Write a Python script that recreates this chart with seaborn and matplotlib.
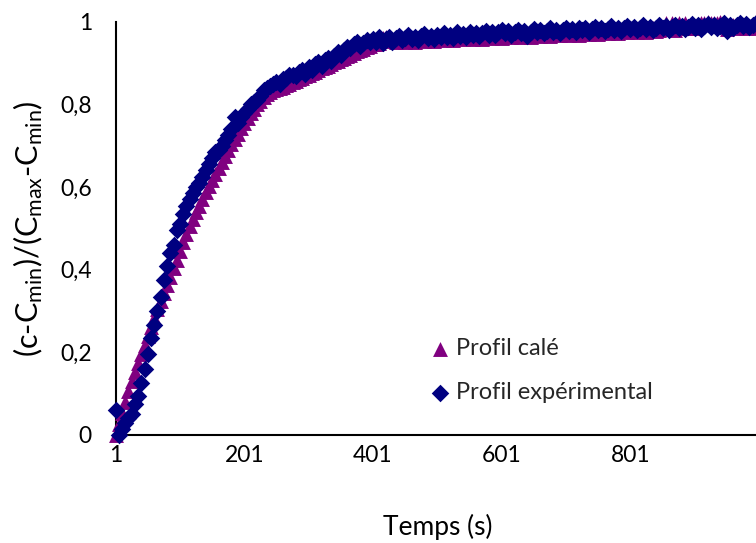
import matplotlib
matplotlib.use("Agg")
import matplotlib.pyplot as plt
import pandas as pd
import seaborn as sns

# Sampling times (s)
temps = list(range(1, 1000, 5))

# Fitted concentration profile, normalised
profil_cale = [
    0.000, 0.027, 0.054, 0.080, 0.106, 0.130, 0.153, 0.175, 0.197, 0.218,
    0.240, 0.262, 0.283, 0.304, 0.324, 0.344, 0.363, 0.383, 0.403, 0.424,
    0.445, 0.466, 0.486, 0.505, 0.522, 0.539, 0.555, 0.571, 0.587, 0.602,
    0.617, 0.632, 0.647, 0.661, 0.675, 0.689, 0.703, 0.716, 0.729, 0.742,
    0.755, 0.767, 0.779, 0.790, 0.800, 0.809, 0.817, 0.825, 0.831, 0.835,
    0.838, 0.840, 0.842, 0.846, 0.850, 0.853, 0.857, 0.861, 0.865, 0.868,
    0.872, 0.876, 0.879, 0.883, 0.887, 0.891, 0.894, 0.898, 0.902, 0.905,
    0.909, 0.913, 0.917, 0.920, 0.924, 0.928, 0.931, 0.935, 0.939, 0.942,
    0.945, 0.947, 0.949, 0.960, 0.962, 0.953, 0.957, 0.950, 0.954, 0.958,
    0.951, 0.955, 0.959, 0.952, 0.956, 0.960, 0.953, 0.957, 0.961, 0.954,
    0.958, 0.962, 0.955, 0.959, 0.963, 0.956, 0.960, 0.964, 0.957, 0.961,
    0.965, 0.958, 0.962, 0.966, 0.959, 0.963, 0.967, 0.960, 0.964, 0.968,
    0.961, 0.965, 0.969, 0.962, 0.966, 0.970, 0.963, 0.967, 0.971, 0.964,
    0.968, 0.972, 0.965, 0.969, 0.973, 0.966, 0.970, 0.974, 0.967, 0.971,
    0.975, 0.968, 0.972, 0.976, 0.969, 0.973, 0.977, 0.970, 0.974, 0.978,
    0.971, 0.975, 0.979, 0.972, 0.976, 0.980, 0.973, 0.977, 0.981, 0.974,
    0.978, 0.982, 0.975, 0.979, 0.983, 0.976, 0.980, 0.984, 0.977, 0.981,
    0.985, 0.997, 0.982, 0.996, 0.979, 0.998, 0.987, 0.997, 0.984, 0.996,
    0.984, 0.995, 0.998, 0.996, 0.999, 0.997, 0.998, 0.996, 0.999, 0.997,
    0.983, 0.987, 0.991, 0.984, 0.988, 0.992, 0.985, 0.989, 0.993, 0.986,
]

# Measured concentration profile, normalised
profil_exp = [
    0.060, 0.000, 0.015, 0.030, 0.040, 0.050, 0.075, 0.095, 0.125, 0.160,
    0.195, 0.235, 0.265, 0.300, 0.335, 0.375, 0.410, 0.440, 0.460, 0.495,
    0.510, 0.535, 0.555, 0.570, 0.585, 0.600, 0.610, 0.625, 0.640, 0.655,
    0.670, 0.685, 0.690, 0.700, 0.715, 0.725, 0.740, 0.770, 0.755, 0.770,
    0.780, 0.790, 0.800, 0.805, 0.810, 0.820, 0.835, 0.840, 0.845, 0.850,
    0.855, 0.850, 0.862, 0.865, 0.870, 0.872, 0.868, 0.878, 0.882, 0.874,
    0.890, 0.884, 0.898, 0.902, 0.893, 0.908, 0.912, 0.906, 0.918, 0.926,
    0.920, 0.932, 0.940, 0.936, 0.945, 0.950, 0.942, 0.948, 0.956, 0.950,
    0.958, 0.952, 0.962, 0.948, 0.958, 0.964, 0.952, 0.960, 0.966, 0.955,
    0.961, 0.968, 0.957, 0.963, 0.955, 0.966, 0.970, 0.960, 0.966, 0.958,
    0.968, 0.963, 0.972, 0.964, 0.969, 0.960, 0.974, 0.966, 0.971, 0.964,
    0.976, 0.968, 0.973, 0.966, 0.972, 0.978, 0.969, 0.975, 0.967, 0.974,
    0.980, 0.972, 0.977, 0.968, 0.976, 0.981, 0.973, 0.978, 0.966, 0.976,
    0.982, 0.974, 0.979, 0.972, 0.978, 0.984, 0.975, 0.980, 0.973, 0.979,
    0.984, 0.977, 0.982, 0.975, 0.986, 0.979, 0.984, 0.976, 0.982, 0.988,
    0.979, 0.985, 0.977, 0.983, 0.989, 0.981, 0.986, 0.978, 0.984, 0.990,
    0.982, 0.987, 0.979, 0.985, 0.991, 0.983, 0.988, 0.980, 0.986, 0.992,
    0.984, 0.989, 0.981, 0.987, 0.993, 0.985, 0.990, 0.982, 0.988, 0.994,
    0.986, 0.991, 0.983, 0.989, 0.995, 0.987, 0.992, 0.984, 0.990, 0.996,
    0.978, 0.993, 0.986, 0.991, 0.997, 0.989, 0.994, 0.987, 0.993, 0.998,
]

x_ticks = [1, 201, 401, 601, 801]
y_ticks = [0, 0.2, 0.4, 0.6, 0.8, 1]
y_tick_labels = ["0", "0,2", "0,4", "0,6", "0,8", "1"]

sns.set_style("white")
plt.rcParams["font.family"] = ["Lato", "DejaVu Sans"]
plt.rcParams["mathtext.fontset"] = "custom"
plt.rcParams["mathtext.rm"] = "Lato"
plt.rcParams["mathtext.it"] = "Lato:italic"

fig = plt.figure(figsize=(7.56, 5.43), dpi=100)
ax = fig.add_axes([0.1529, 0.1989, 0.8512, 0.7611])

df_cale = pd.DataFrame({"temps": temps, "valeur": profil_cale})
df_exp = pd.DataFrame({"temps": temps, "valeur": profil_exp})

sns.scatterplot(data=df_cale, x="temps", y="valeur", marker="^", color="#800080",
                s=115, linewidth=0, ax=ax, label="Profil calé", clip_on=False, zorder=3)
sns.scatterplot(data=df_exp, x="temps", y="valeur", marker="D", color="#000080",
                s=80, linewidth=0, ax=ax, label="Profil expérimental", clip_on=False, zorder=4)

ax.set_xlim(1, 1001)
ax.set_ylim(0, 1)
ax.set_xticks(x_ticks)
ax.set_xticklabels([str(t) for t in x_ticks])
ax.set_yticks(y_ticks)
ax.set_yticklabels(y_tick_labels)

for side in ("top", "right"):
    ax.spines[side].set_visible(False)
for side in ("left", "bottom"):
    ax.spines[side].set_color("black")
    ax.spines[side].set_linewidth(1.5)

ax.tick_params(axis="both", direction="out", length=6, width=1.5, color="black",
               labelsize=16.5, labelcolor="black")
ax.tick_params(axis="x", pad=1.5)
ax.tick_params(axis="y", pad=11)

ax.set_xlabel("Temps (s)", fontsize=19, color="black")
ax.xaxis.label.set_va("center")
ax.xaxis.set_label_coords(0.5, -0.222)

ax.set_ylabel(r"(c-C$_{\mathrm{min}}$)/(C$_{\mathrm{max}}$-C$_{\mathrm{min}}$)",
              fontsize=22, color="black")
ax.yaxis.label.set_va("center")
ax.yaxis.label.set_ha("center")
ax.yaxis.set_label_coords(-0.136, 0.5)

ax.legend(loc="upper left", bbox_to_anchor=(0.569, 0.378), bbox_transform=fig.transFigure,
          frameon=False, fontsize=17, handlelength=0.8, handletextpad=0.3,
          labelspacing=1.0, borderpad=0, borderaxespad=0, markerscale=1.0)

fig.savefig("out.png", dpi=100)
